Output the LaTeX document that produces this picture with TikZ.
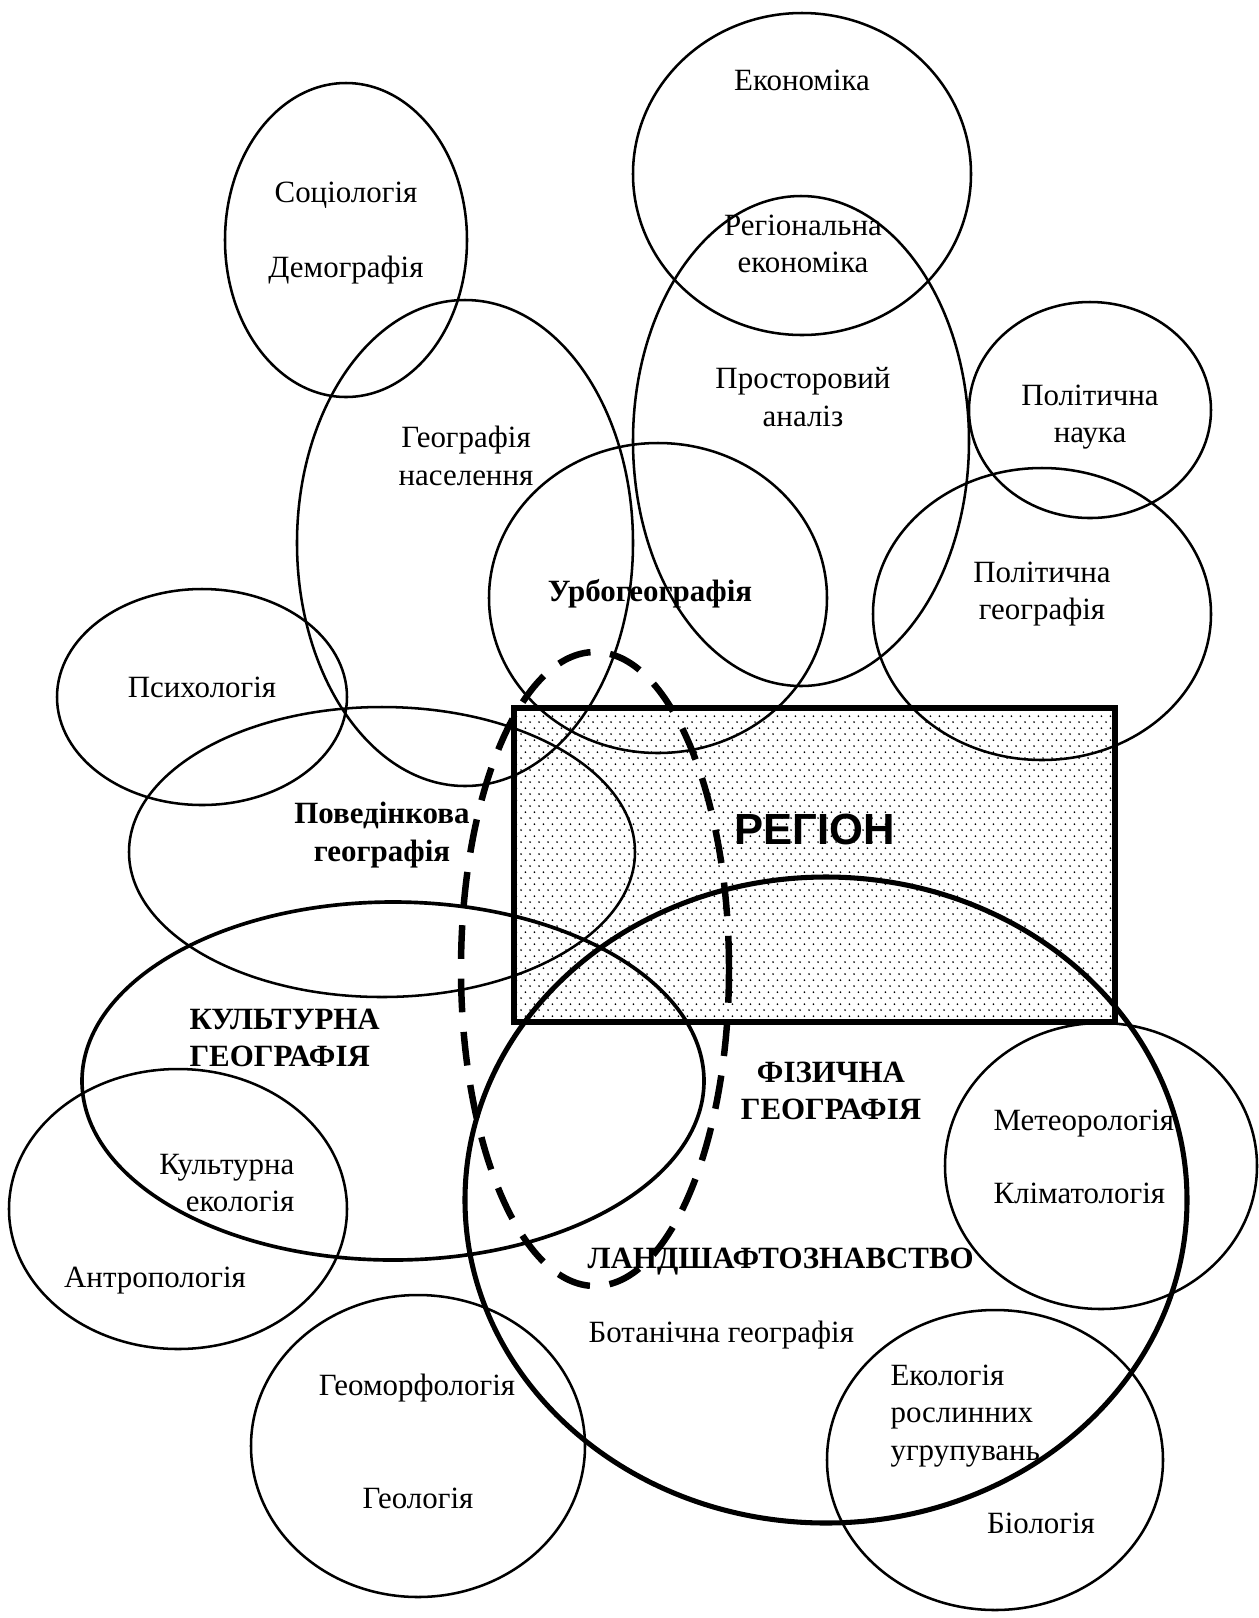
\documentclass[tikz,border=0pt]{standalone}
\usepackage{fontspec}
\setmainfont{Liberation Serif}
\newfontfamily\regionfont{Liberation Sans}
\usetikzlibrary{patterns}

% fine staggered dots for the region box
\pgfdeclarepatternformonly{regdots}{\pgfqpoint{0pt}{0pt}}{\pgfqpoint{3.3pt}{4.4pt}}{\pgfqpoint{3.3pt}{4.4pt}}{%
  \pgfpathcircle{\pgfqpoint{0.8pt}{1.1pt}}{0.36pt}%
  \pgfpathcircle{\pgfqpoint{2.45pt}{3.3pt}}{0.36pt}%
  \pgfusepath{fill}}

\begin{document}
\begin{tikzpicture}[x=0.0125cm,y=-0.0125cm,
  every node/.style={font=\fontsize{11}{13.3}\selectfont,inner sep=0pt},
  lab/.style={align=center},
  head/.style={align=center,font=\fontsize{11}{13.3}\selectfont\bfseries},
  thin/.style={line width=0.9pt},
  medium/.style={line width=1.3pt},
  thick/.style={line width=1.8pt},
  zone/.style={line width=2.3pt,dash pattern=on 12pt off 7pt}]
\useasboundingbox (0,0) rectangle (1259,1618);

\draw[thick,pattern=regdots] (514,708) rectangle (1115,1022);

\draw[thin] (346,240) ellipse [x radius=121,y radius=157];
\draw[thin] (802,174) ellipse [x radius=169,y radius=161];
\draw[thin] (801,441) ellipse [x radius=168,y radius=245];
\draw[thin] (1090,410) ellipse [x radius=121,y radius=108];
\draw[thin] (1042,614) ellipse [x radius=169,y radius=146];
\draw[thin] (465,543) ellipse [x radius=168,y radius=243];
\draw[thin] (658,598) ellipse [x radius=169,y radius=155];
\draw[thin] (202,697) ellipse [x radius=145,y radius=108];
\draw[thin] (382,852) ellipse [x radius=253,y radius=145];
\draw[medium] (393,1081) ellipse [x radius=311,y radius=179];
\draw[thin] (178,1209) ellipse [x radius=169,y radius=140];
\draw[thick] (826,1200) ellipse [x radius=361,y radius=323];
\draw[thin] (1101,1166) ellipse [x radius=156,y radius=143];
\draw[thin] (418,1446) ellipse [x radius=167,y radius=151];
\draw[thin] (995,1460) ellipse [x radius=168,y radius=150];
\draw[zone] (595,969) ellipse [x radius=134,y radius=317];

\node[lab] (econ) at (802,80) {Економіка};
\node[lab] (socio) at (346,195) {Соціологія};
\node[lab] (demo) at (346,270) {Демографія};
\node[lab] (regecon) at (803,244) {Регіональна\\економіка};
\node[lab] (spatial) at (803,397) {Просторовий\\аналіз};
\node[lab] (polsci) at (1090,417) {Політична\\наука};
\node[lab] (popgeo) at (466,456) {Географія\\населення};
\node[head] (urban) at (650,594) {Урбогеографія};
\node[lab] (polgeo) at (1042,594) {Політична\\географія};
\node[lab] (psych) at (202,687) {Психологія};
\node[head] (behav) at (382,835) {Поведінкова\\географія};
\node[font=\fontsize{15.5}{18}\selectfont\regionfont\bfseries] (region) at (815,829) {РЕГІОН};
\node[head,align=left,anchor=west] (cultgeo) at (189,1038) {КУЛЬТУРНА\\ГЕОГРАФІЯ};
\node[head] (physgeo) at (831,1091) {ФІЗИЧНА\\ГЕОГРАФІЯ};
\node[anchor=base west] (meteo) at (993,1130) {Метеорологія};
\node[anchor=base west] (climat) at (993,1203) {Кліматологія};
\node[align=right,anchor=east] (culteco) at (295,1183) {Культурна\\екологія};
\node[anchor=base] (anthro) at (155,1287) {Антропологія};
\node[head,anchor=base west] (landsc) at (587,1268) {ЛАНДШАФТОЗНАВСТВО};
\node[anchor=base west] (botan) at (588,1342) {Ботанічна географія};
\node[align=left,anchor=west] (plants) at (890,1416) {Екологія\\рослинних\\угрупувань};
\node[lab] (geomorph) at (417,1388) {Геоморфологія};
\node[lab] (geol) at (418,1498) {Геологія};
\node[lab] (biol) at (1041,1523) {Біологія};
\end{tikzpicture}
\end{document}
